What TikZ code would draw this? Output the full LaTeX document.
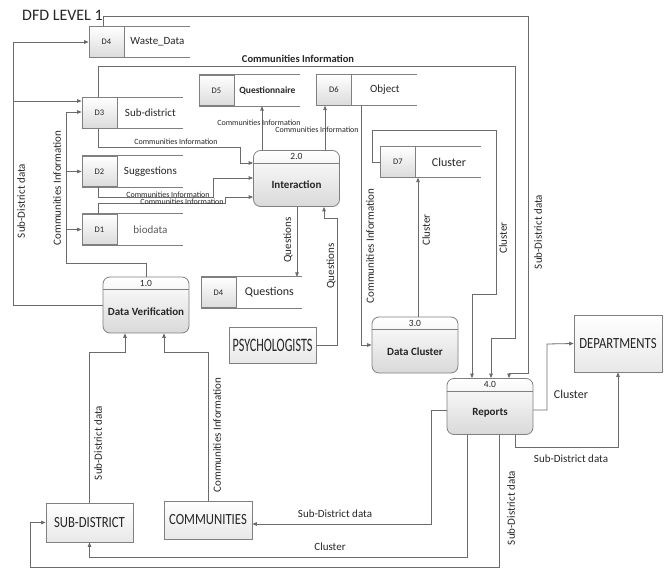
\documentclass[tikz,border=0pt]{standalone}
\usepackage{fontspec}
\setmainfont{Carlito}
\newfontfamily\entityfont{Carlito}[FakeStretch=0.82]
\newfontfamily\psyfont{Carlito}[FakeStretch=0.64]
\usetikzlibrary{arrows.meta,positioning}

\begin{document}
\begin{tikzpicture}
        [x=1pt, y=-1pt,
        % Styles
        every node/.style={text=textgray},
        flow/.style={draw=linegray, line width=0.8pt, -{Triangle[length=4.5pt, width=3.6pt]}},
        box line/.style={draw=boxgray, line width=0.8pt},
        store id/.style={box line, top color=white, bottom color=black!14, minimum width=35pt,
                minimum height=30.5pt, inner sep=0pt, font=\fontsize{8.5}{9}\selectfont},
        store text/.style={inner sep=0pt, font=\fontsize{11}{12}\selectfont},
        process/.style={box line, rounded corners=7pt, top color=white, bottom color=black!15,
                minimum width=86pt, minimum height=56pt, inner sep=0pt},
        process number/.style={inner sep=0pt, font=\fontsize{9.5}{10}\selectfont},
        process text/.style={inner sep=0pt, font=\bfseries\fontsize{11}{12}\selectfont},
        entity/.style={box line, top color=white, bottom color=black!9, minimum width=87pt,
                minimum height=38pt, inner sep=0pt, font=\entityfont\fontsize{15.5}{16}\selectfont},
        flow text/.style={inner sep=0pt, font=\fontsize{11}{12}\selectfont},
        small text/.style={inner sep=0pt, font=\fontsize{8}{9}\selectfont}]

        % Colors
        \colorlet{linegray}{black!58}
        \colorlet{boxgray}{black!50}
        \colorlet{textgray}{black!85}

        \useasboundingbox (0,0) rectangle (672,569);

        \node[anchor=base west, inner sep=0pt, font=\fontsize{16}{17}\selectfont] (title) at (22,21) {DFD LEVEL 1};

        % Data stores
        \foreach \name/\pos/\id/\txt in {d4w/{106.5,42}/D4/Waste\_Data, d3/{99.5,113}/D3/Sub-district,
                d2/{99.5,171.5}/D2/Suggestions, d1/{99.5,229.5}/D1/{\color{black!65}biodata},
                d5/{216.5,90.5}/D5/{\bfseries\fontsize{9.5}{10}\selectfont Questionnaire},
                d6/{334,90}/D6/Object, d7/{398,162}/D7/{\fontsize{12}{13}\selectfont Cluster},
                d4q/{218.5,292.5}/D4/{\fontsize{12}{13}\selectfont Questions}}
        {
                \node[store id] (\name) at (\pos) {\id};
                \draw[box line] (\name.north west) -- ++(101pt,0pt);
                \draw[box line] (\name.south west) -- ++(101pt,0pt);
                \node[store text] (\name-txt) at ([xshift=33pt]\name.east) {\txt};
        }

        % Processes
        \foreach \name/\pos/\num/\txt in {dv/{146,305}/1.0/Data Verification, inter/{296.5,178.5}/2.0/Interaction,
                dc/{415,345}/3.0/Data Cluster, rep/{490,406.5}/4.0/Reports}
        {
                \node[process] (\name) at (\pos) {};
                \draw[box line] ([yshift=-13pt]\name.north west) -- ([yshift=-13pt]\name.north east);
                \node[process number] (\name-num) at ([yshift=-6.5pt]\name.north) {\num};
                \node[process text] (\name-txt) at ([yshift=-6.5pt]\name.center) {\txt};
        }

        % External entities
        \node[entity, minimum width=88pt, minimum height=57pt] (dept) at (618,343.5) {DEPARTMENTS};
        \node[entity, minimum height=36pt, font=\psyfont\fontsize{19}{19}\selectfont] (psy) at (272.5,345) {PSYCHOLOGISTS};
        \node[entity, minimum height=39pt] (sub) at (89.5,522.5) {SUB-DISTRICT};
        \node[entity, minimum width=88pt] (comm) at (208,520) {COMMUNITIES};

        % Flows out of Data Verification
        \draw[flow] (dv.west) -| (13,42) -- (d4w.west);
        \draw[flow] (13,101) -- ([yshift=12pt]d3.west);
        \draw[flow] (dv.north) |- (66,263) |- ([yshift=1pt]d3.west);
        \draw[flow] (66,171.5) -- (d2.west);
        \draw[flow] (66,229.5) -- (d1.west);

        % Flows into Data Verification
        \draw[flow] (sub.north) |- (125,352) -| ([xshift=-21pt]dv.south);
        \draw[flow] (comm.north) |- (164,352) -| ([xshift=18pt]dv.south);

        % Flows around Interaction
        \draw[flow] ([xshift=-1.5pt]d3.south) |- (240,147) |- ([yshift=15.5pt]inter.west);
        \draw[flow] ([xshift=-1.5pt]d2.south) |- (213,197) |- ([yshift=0.5pt]inter.west);
        \draw[flow] ([xshift=-1.5pt]d1.north) |- (225,203) |- ([yshift=-18.5pt]inter.west);
        \draw[flow] ([xshift=-34.5pt]inter.north) -- ([xshift=45.5pt]d5.south);
        \draw[flow] ([xshift=28.5pt]inter.north) -- ([xshift=-9pt]d6.south);
        \draw[flow] ([xshift=0.5pt]inter.south) -- ([xshift=78.5pt]d4q.north);
        \draw[flow] (psy.east) -| (337,218) -| ([xshift=27.5pt]inter.south);

        % Flows around Data Cluster
        \draw[flow] ([xshift=27pt]d6.south) |- (dc.west);
        \draw[flow] ([xshift=3pt]dc.north) -- ([xshift=20pt]d7.south);

        % Flows into Reports
        \draw[flow] ([xshift=-3.5pt]d4w.north) |- (528,16) |- (509,373) -- ([xshift=19pt]rep.north);
        \draw[flow] ([xshift=-1.5pt]d3.north) |- (515,66) |- (491,338) -- ([xshift=1pt]rep.north);
        \draw[flow] (d7.west) -- (372,162) |- (496,130) |- (472,294) -- ([xshift=-18pt]rep.north);

        % Flows out of Reports
        \draw[flow] ([yshift=-3.5pt]rep.east) -| (547,344) -- (dept.west);
        \draw[flow] ([xshift=25pt]rep.south) |- (618,447) -- (dept.south);
        \draw[flow] ([yshift=-3.5pt]rep.west) -| (431,524) -- ([yshift=-4pt]comm.east);
        \draw[flow] ([xshift=-23pt]rep.south) |- (89.5,557) -- (sub.south);
        \draw[flow] ([xshift=9pt]rep.south) |- (30,567) |- (sub.west);

        % Flow labels
        \node[flow text, rotate=90] (l-sd1) at (21,201) {Sub-District data};
        \node[flow text, rotate=90] (l-ci1) at (57,188) {Communities Information};
        \node[flow text, font=\bfseries\fontsize{10.5}{11}\selectfont] (l-ci2) at (298,59) {Communities Information};
        \node[small text] (l-ci3) at (176,142) {Communities Information};
        \node[small text] (l-ci4) at (168,195) {Communities Information};
        \node[small text] (l-ci5) at (182,202) {Communities Information};
        \node[small text] (l-ci6) at (259,123) {Communities Information};
        \node[small text] (l-ci7) at (317,130) {Communities Information};
        \node[flow text, rotate=90] (l-q1) at (288,240) {Questions};
        \node[flow text, rotate=90] (l-q2) at (331,266) {Questions};
        \node[flow text, rotate=90] (l-ci8) at (370,246) {Communities Information};
        \node[flow text, rotate=90] (l-cl1) at (426,230) {Cluster};
        \node[flow text, rotate=90] (l-cl2) at (503,238) {Cluster};
        \node[flow text, rotate=90] (l-sd2) at (538,232) {Sub-District data};
        \node[flow text, font=\fontsize{12}{13}\selectfont] (l-cl3) at (571,394) {Cluster};
        \node[flow text] (l-sd3) at (571,459) {Sub-District data};
        \node[flow text] (l-sd4) at (335,514) {Sub-District data};
        \node[flow text] (l-cl4) at (330,547) {Cluster};
        \node[flow text, rotate=90] (l-sd5) at (511,508) {Sub-District data};
        \node[flow text, rotate=90] (l-sd6) at (98,443) {Sub-District data};
        \node[flow text, rotate=90] (l-ci9) at (217,435) {Communities Information};
\end{tikzpicture}
\end{document}
